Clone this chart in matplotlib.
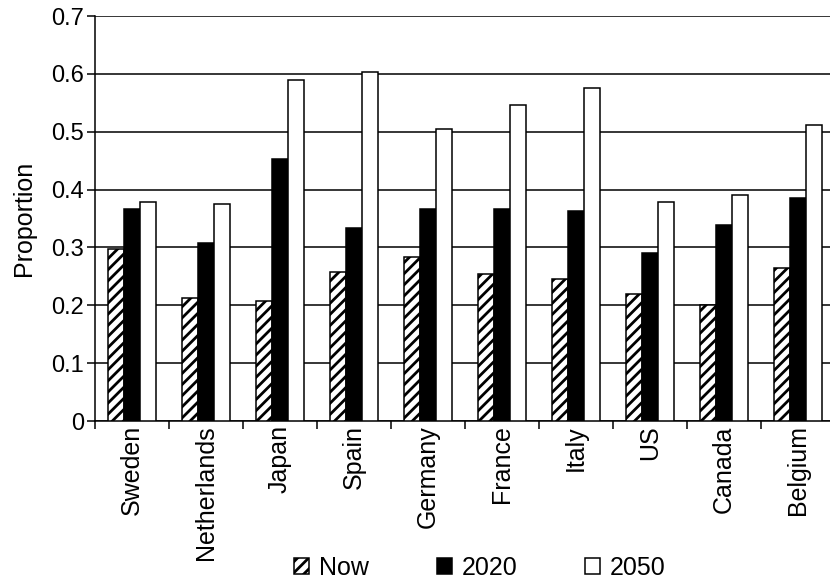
import matplotlib
matplotlib.use("Agg")
import matplotlib.pyplot as plt
import numpy as np

countries = ["Sweden", "Netherlands", "Japan", "Spain", "Germany",
             "France", "Italy", "US", "Canada", "Belgium"]
now_vals = [0.298, 0.212, 0.207, 0.258, 0.283, 0.254, 0.246, 0.219, 0.200, 0.265]
y2020_vals = [0.366, 0.308, 0.452, 0.333, 0.366, 0.366, 0.363, 0.291, 0.338, 0.385]
y2050_vals = [0.378, 0.375, 0.590, 0.603, 0.505, 0.546, 0.576, 0.379, 0.391, 0.512]
yticks = [0, 0.1, 0.2, 0.3, 0.4, 0.5, 0.6, 0.7]
ytick_labels = ["0", "0.1", "0.2", "0.3", "0.4", "0.5", "0.6", "0.7"]

plt.rcParams["font.family"] = ["Liberation Sans", "DejaVu Sans"]
plt.rcParams["hatch.linewidth"] = 2.0

FS = 18

fig = plt.figure(figsize=(8.3, 5.81), dpi=100)
ax = fig.add_axes([95 / 830, 160 / 581, 740 / 830, 405 / 581])

x = np.arange(len(countries)) + 0.5
w = 0.22
ax.bar(x - w, now_vals, w, facecolor="white", edgecolor="black",
       linewidth=1.1, hatch="///", label="Now", zorder=3)
ax.bar(x, y2020_vals, w, facecolor="black", edgecolor="black",
       linewidth=1.1, label="2020", zorder=3)
ax.bar(x + w, y2050_vals, w, facecolor="white", edgecolor="black",
       linewidth=1.1, label="2050", zorder=3)

ax.set_xlim(0, 10)
ax.set_ylim(0, 0.7)
ax.set_yticks(yticks)
ax.set_yticklabels(ytick_labels, fontsize=17)
ax.yaxis.grid(True, color="black", linewidth=1.1, zorder=0)
ax.set_axisbelow(True)

ax.set_xticks(np.arange(0, 10))
ax.set_xticklabels([])
ax.set_xticks(x, minor=True)
ax.set_xticklabels(countries, minor=True, rotation=90, fontsize=FS)
ax.tick_params(axis="x", which="minor", length=0, pad=3)
ax.tick_params(axis="x", which="major", length=6, width=1.1, direction="out")
ax.tick_params(axis="y", length=6, width=1.1, direction="out", pad=2)

for s in ["top", "right"]:
    ax.spines[s].set_visible(False)
for s in ["left", "bottom"]:
    ax.spines[s].set_linewidth(1.1)

ax.set_ylabel("Proportion", fontsize=FS, labelpad=11)

fig.legend(loc="center", bbox_to_anchor=(480 / 830, 1 - 568 / 581), ncol=3,
           frameon=False, fontsize=FS, handlelength=0.6, handleheight=0.6,
           handletextpad=0.4, columnspacing=2.7, borderpad=0.1)

fig.savefig("out.png", dpi=100, facecolor="white")
